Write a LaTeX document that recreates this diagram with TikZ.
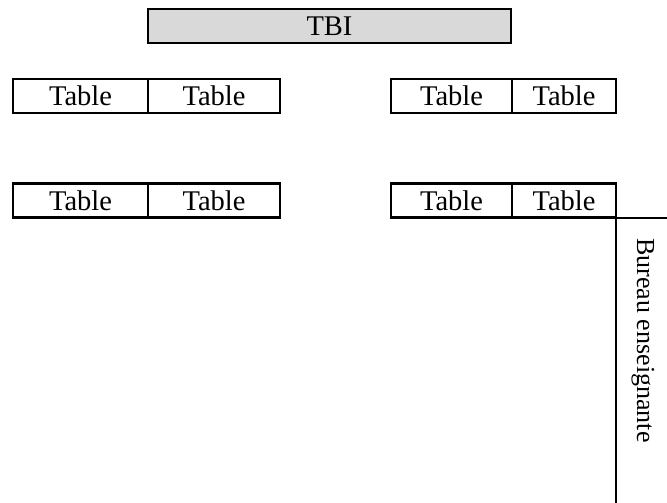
\documentclass[tikz,border=0pt]{standalone}
\usepackage{fontspec}
\setmainfont{Liberation Serif}
\begin{document}
\begin{tikzpicture}[x=1pt,y=-1pt,
  cell/.style={draw=black,line width=2.7pt,rectangle,inner sep=0pt,minimum height=34pt,font=\fontsize{28.5}{31}\selectfont},
  tbibox/.style={cell,fill=black!15,minimum width=363pt},
  wall/.style={draw=black,line width=2.7pt}]
\useasboundingbox (0,0) rectangle (667,503);
\node[tbibox] (tbi) at (329.5,26) {TBI};
% row 1 left
\node[cell,minimum width=135pt] (t1) at (80.5,96) {Table};
\node[cell,minimum width=132pt] (t2) at (214,96) {Table};
% row 1 right
\node[cell,minimum width=121pt] (t3) at (451.5,96) {Table};
\node[cell,minimum width=104pt] (t4) at (564,96) {Table};
% row 2 left
\node[cell,minimum width=135pt] (t5) at (80.5,200.5) {Table};
\node[cell,minimum width=132pt] (t6) at (214,200.5) {Table};
% row 2 right
\node[cell,minimum width=121pt] (t7) at (451.5,200.5) {Table};
\node[cell,minimum width=104pt] (t8) at (564,200.5) {Table};
% teacher desk
\coordinate (corner) at (616,218);
\coordinate (right) at (667,218);
\coordinate (bottom) at (616,503);
\draw[wall] (right) -- (corner) -- (bottom);
\node[rotate=-90,font=\fontsize{26}{29}\selectfont,inner sep=0pt] (bureau) at (643,340.5) {Bureau enseignante};
\end{tikzpicture}
\end{document}
